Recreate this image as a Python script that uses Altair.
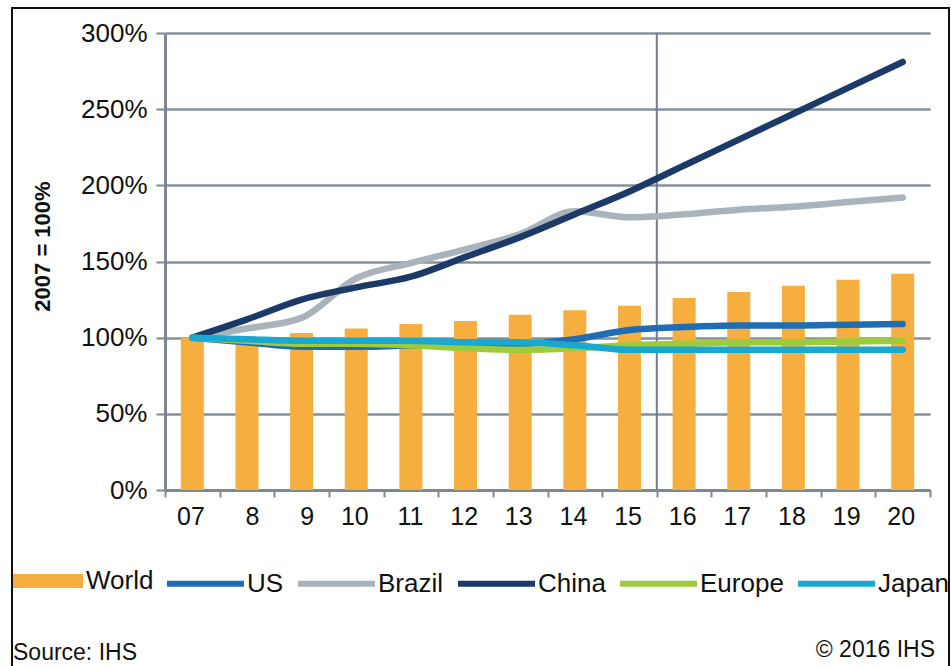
import altair as alt
import pandas as pd

years = ["07", "8", "9", "10", "11", "12", "13", "14", "15", "16", "17", "18", "19", "20"]
world = [100, 98, 103, 106, 109, 111, 115, 118, 121, 126, 130, 134, 138, 142]
us = [100, 97, 94, 94, 95, 96, 96, 99, 105, 107, 108, 108, 108.5, 109]
brazil = [100, 106, 113, 139, 149, 158, 168, 183, 179, 181, 184, 186, 189, 192]
china = [100, 112, 125, 133, 140, 153, 166, 181, 196, 213, 230, 247, 264, 281]
europe = [100, 98, 96, 96, 95, 93, 92, 93, 95, 96, 97, 97, 97.5, 98]
japan = [100, 99, 98, 98, 98, 97, 97, 95, 92, 92, 92, 92, 92, 92]

line_series = ["US", "Brazil", "China", "Europe", "Japan"]
line_colors = ["#1F6DB4", "#A9B3BB", "#1B3A68", "#9DCB3C", "#19A8CF"]
world_color = "#F6AF3E"
split_year = "16"

FONT = "Liberation Sans"
TXT = "#111111"

bar_df = pd.DataFrame({"year": years, "value": [v / 100 for v in world], "series": "World"})
rows = []
for name, vals in zip(line_series, [us, brazil, china, europe, japan]):
    for i, (y, v) in enumerate(zip(years, vals)):
        rows.append({"year": y, "value": v / 100, "series": name, "order": i})
line_df = pd.DataFrame(rows)

xscale = alt.Scale(domain=years, paddingInner=0, paddingOuter=0)
yscale = alt.Scale(domain=[0, 3], nice=False)

x_enc = alt.X(
    "year:N", scale=xscale, sort=years, title=None,
    axis=alt.Axis(labelAngle=0, labelFontSize=25, labelFont=FONT, labelColor=TXT,
                  labelPadding=19, labelOffset=12, tickBand="extent", tickSize=7,
                  tickColor="#7d8894", tickWidth=2, domainColor="#7d8894", domainWidth=3,
                  grid=False),
)
y_enc = alt.Y(
    "value:Q", scale=yscale, title="2007 = 100%",
    axis=alt.Axis(values=[0, 0.5, 1, 1.5, 2, 2.5, 3], format=".0%", labelFontSize=26,
                  labelFont=FONT, labelColor=TXT, labelPadding=9, tickSize=9,
                  tickColor="#7d8894", tickWidth=2, domainColor="#7d8894", domainWidth=3,
                  grid=True, gridColor="#85909b", gridWidth=2.5,
                  titleFont=FONT, titleFontSize=22, titleFontWeight="bold",
                  titleColor=TXT, titlePadding=26, titleY=213),
)

bars = alt.Chart(bar_df).mark_bar(size=23).encode(
    x=x_enc,
    y=y_enc,
    color=alt.Color(
        "series:N",
        scale=alt.Scale(domain=["World"], range=[world_color]),
        legend=alt.Legend(orient="none", legendX=-152, legendY=513, title=None,
                          symbolType="M-1,-0.2H1V0.2H-1Z", symbolSize=4900,
                          symbolStrokeWidth=0, labelFontSize=26, labelFont=FONT,
                          labelColor=TXT, labelOffset=3, padding=0),
    ),
)

split = alt.Chart(pd.DataFrame({"year": [split_year]})).mark_rule(
    color="#6f7d8c", strokeWidth=2
).encode(
    x=alt.X("year:N", scale=xscale, sort=years, bandPosition=0),
    y=alt.value(0),
    y2=alt.value(457),
)

lines = alt.Chart(line_df).mark_line(strokeWidth=6.5, strokeCap="round",
                                     strokeJoin="round", interpolate="monotone").encode(
    x=alt.X("year:N", scale=xscale, sort=years),
    y=alt.Y("value:Q", scale=yscale),
    order="order:Q",
    stroke=alt.Stroke(
        "series:N",
        scale=alt.Scale(domain=line_series, range=line_colors),
        legend=alt.Legend(orient="none", direction="horizontal", legendX=-1, legendY=509,
                          title=None, symbolType="stroke", symbolSize=5929,
                          symbolStrokeWidth=6, labelFontSize=26, labelFont=FONT,
                          labelColor=TXT, labelOffset=0, columnPadding=2,
                          padding=0),
    ),
)

notes_df = pd.DataFrame({"label": ["Source: IHS"]})
source = alt.Chart(notes_df).mark_text(align="left", baseline="alphabetic", fontSize=23,
                                       font=FONT, color=TXT).encode(
    text="label:N", x=alt.value(-152), y=alt.value(627))
copy_df = pd.DataFrame({"label": ["© 2016 IHS"]})
copyright = alt.Chart(copy_df).mark_text(align="right", baseline="alphabetic", fontSize=23,
                                         font=FONT, color=TXT).encode(
    text="label:N", x=alt.value(770), y=alt.value(624))

border = alt.Chart(notes_df).mark_rect(filled=False, stroke="#111111", strokeWidth=2).encode(
    x=alt.value(-153), x2=alt.value(784), y=alt.value(-25), y2=alt.value(680))

chart = alt.layer(split, bars, lines, source, copyright, border).resolve_scale(
    color="independent"
).properties(
    width=765, height=457,
    padding={"left": 165, "top": 33, "right": 21, "bottom": 176},
    autosize=alt.AutoSizeParams(type="none"),
    background="white",
).configure_view(stroke=None)

chart.save("out.html", embed_options={"renderer": "svg", "actions": False})
